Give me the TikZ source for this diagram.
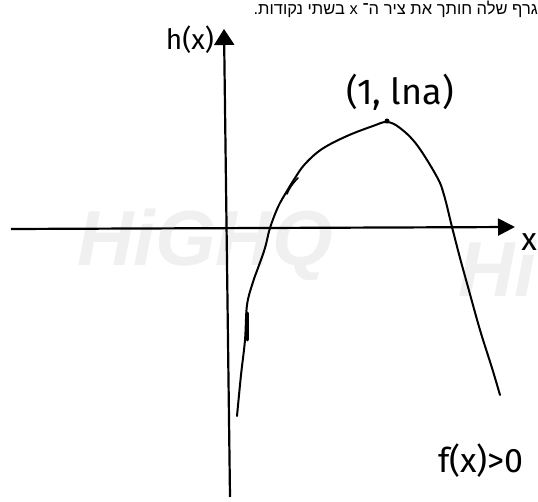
\documentclass[tikz,border=0pt]{standalone}
\usepackage{fontspec}
\setmainfont{Fira Sans}
\newfontfamily\hebfont[Script=Hebrew]{Liberation Sans}
\newfontfamily\wmfont{Liberation Sans}
\TeXXeTstate=1
\usetikzlibrary{arrows.meta}
\tikzset{
  axisline/.style={line width=2.2pt, black},
  curveline/.style={line width=2pt, black, line cap=round, line join=round},
  hand/.style={inner sep=0pt, font=\fontsize{#1}{#1}\selectfont},
  watermark/.style={inner sep=0pt, text=black!6, font=\wmfont\bfseries\itshape\fontsize{#1}{#1}\selectfont},
}
\begin{document}
\begin{tikzpicture}[x=1pt,y=-1pt]
\useasboundingbox[fill=white] (0,0) rectangle (538,502);
% watermark
\node[watermark=78, anchor=center] (wm1) at (205,245) {HiGHQ};
\node[watermark=78, anchor=west] (wm2) at (458,268) {Hi};
% heading text
\node[anchor=base east, inner sep=0pt, font=\hebfont\fontsize{16.5}{18}\selectfont] (head) at (538,15)
  {\beginR גרף שלה חותך את ציר ה־ \beginL x\endL{} בשתי נקודות.\endR};
% axes
\coordinate (xl) at (11,229);
\coordinate (xr) at (515,227);
\coordinate (yb) at (230,497);
\coordinate (yt) at (224,29);
\draw[axisline, -{Triangle[length=17pt,width=17pt]}] (xl) -- (xr);
\draw[axisline, -{Triangle[length=16pt,width=20pt]}] (yb) -- (yt);
% labels
\node[hand=28] (hx) at (190,40) {h(x)};
\node[hand=32, anchor=east] (xlab) at (537,242) {x};
\node[hand=36] (pt) at (400,92) {(1, lna)};
\node[hand=34] (fx) at (481,461) {f(x)>0};
% curve
\draw[curveline] plot[smooth, tension=0.6] coordinates {
 (237,416) (241,375) (245,340) (247,305) (253,282) (258,268) (265,248) (270,228)
 (278,207) (287,191) (295,178) (305,164) (322,149) (347,136) (373,126) (387,122)
 (400,128) (417,145) (437,177) (444,195) (452,227) (460,258) (468,287) (480,330)
 (492,368) (500,395)};
% small loop / tick marks of the sketch
\draw[curveline, line width=1.6pt] (287,194) .. controls (290,186) and (296,180) .. (298,178);
\draw[curveline, line width=3pt] (247,313) -- (247,340);
\fill (387,121) circle (2.5pt);
\end{tikzpicture}
\end{document}
